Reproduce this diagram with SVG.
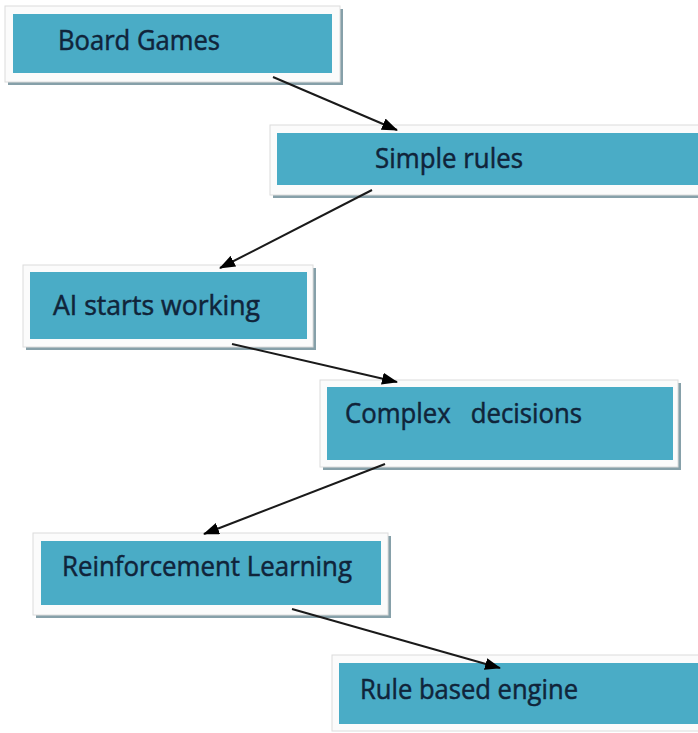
<svg xmlns="http://www.w3.org/2000/svg" width="698" height="733" viewBox="0 0 698 733">
<style>
.shadow{fill:#86a0a9}
.frame{fill:#fbfbfb;stroke:#dcdcdc;stroke-width:1}
.box{fill:#4aacc6}
.lbl{font-family:"Open Sans","Noto Sans",sans-serif;font-size:27px;fill:#10243a;stroke:#10243a;stroke-width:0.5}
.conn{stroke:#1a1a1a;stroke-width:2;fill:none;marker-end:url(#ah)}
</style>
<defs>
<marker id="ah" viewBox="0 0 16 12" refX="15" refY="6" markerWidth="16" markerHeight="12" markerUnits="userSpaceOnUse" orient="auto">
<path d="M0,0 L16,6 L0,12 Z" fill="#000"/>
</marker>
</defs>
<rect width="698" height="733" fill="#ffffff"/>
<g id="node-board-games">
<rect class="shadow" x="8" y="9" width="335" height="76"/>
<rect class="frame" x="5" y="6" width="335" height="76"/>
<rect class="box" x="13" y="14" width="319" height="59"/>
<text class="lbl" x="58" y="50" textLength="162" lengthAdjust="spacingAndGlyphs">Board Games</text>
</g>
<g id="node-simple-rules">
<rect class="shadow" x="273" y="128" width="430" height="70"/>
<rect class="frame" x="270" y="125" width="430" height="70"/>
<rect class="box" x="277" y="133" width="421" height="52"/>
<text class="lbl" x="375" y="168" textLength="148" lengthAdjust="spacingAndGlyphs">Simple rules</text>
</g>
<g id="node-ai-starts">
<rect class="shadow" x="26" y="268" width="290" height="82"/>
<rect class="frame" x="23" y="265" width="290" height="82"/>
<rect class="box" x="30" y="272" width="277" height="67"/>
<text class="lbl" x="53" y="315" textLength="207" lengthAdjust="spacingAndGlyphs">AI starts working</text>
</g>
<g id="node-complex">
<rect class="shadow" x="323" y="383" width="358" height="87"/>
<rect class="frame" x="320" y="380" width="358" height="87"/>
<rect class="box" x="327" y="387" width="346" height="73"/>
<text class="lbl" x="345" y="423" textLength="237" lengthAdjust="spacingAndGlyphs" xml:space="preserve">Complex   decisions</text>
</g>
<g id="node-reinforcement">
<rect class="shadow" x="36" y="536" width="355" height="82"/>
<rect class="frame" x="33" y="533" width="355" height="82"/>
<rect class="box" x="41" y="541" width="340" height="64"/>
<text class="lbl" x="62" y="576" textLength="290" lengthAdjust="spacingAndGlyphs">Reinforcement Learning</text>
</g>
<g id="node-rule-engine">
<rect class="frame" x="332" y="655" width="370" height="76"/>
<rect class="box" x="339" y="663" width="360" height="61"/>
<text class="lbl" x="360" y="699" textLength="218" lengthAdjust="spacingAndGlyphs">Rule based engine</text>
</g>
<g id="connectors">
<line class="conn" x1="273" y1="77" x2="397" y2="130"/>
<line class="conn" x1="372" y1="190" x2="220" y2="268"/>
<line class="conn" x1="232" y1="344" x2="397" y2="382"/>
<line class="conn" x1="385" y1="464" x2="204" y2="534"/>
<line class="conn" x1="292" y1="609" x2="500" y2="668"/>
</g>
</svg>
